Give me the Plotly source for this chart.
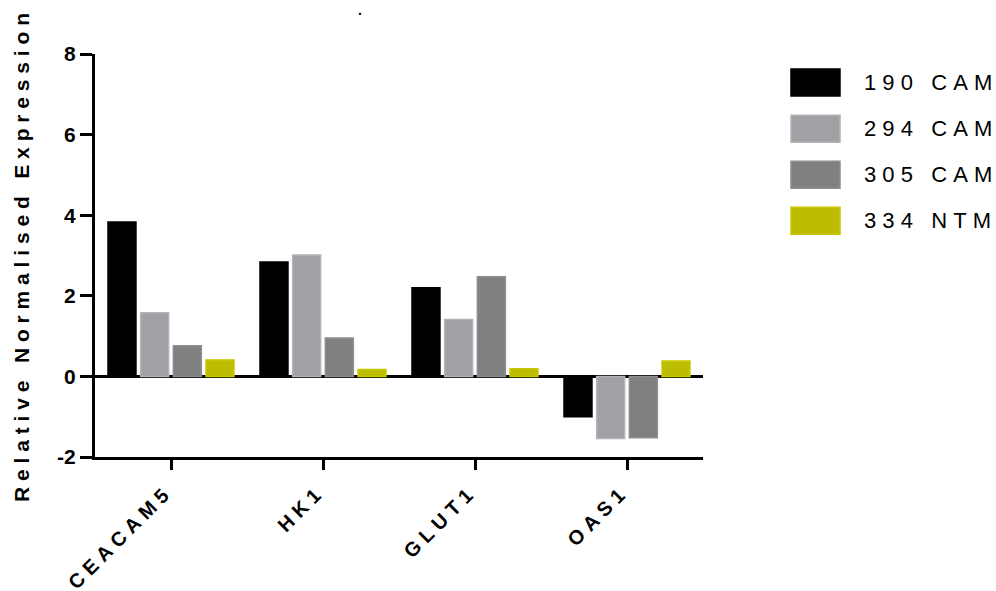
import plotly.graph_objects as go

# ---- data ----
genes = ["CEACAM5", "HK1", "GLUT1", "OAS1"]
series_names = ["190 CAM", "294 CAM", "305 CAM", "334 NTM"]
vals_190 = [3.83, 2.84, 2.20, -1.00]
vals_294 = [1.58, 3.01, 1.41, -1.54]
vals_305 = [0.76, 0.95, 2.47, -1.52]
vals_334 = [0.41, 0.17, 0.19, 0.38]
y_ticks = [-2, 0, 2, 4, 6, 8]
y_title = "Relative Normalised Expression"

fills = ["#000000", "#A1A1A5", "#808080", "#BCBC00"]
edges = ["#000000", "#B4B4B8", "#8E8E8E", "#C8C800"]

NB = "\u00a0"


def spaced(text, gap=NB, word_gap=NB * 3):
    """Letter-spaced string built from non-breaking spaces."""
    return word_gap.join(gap.join(word) for word in text.split(" "))


fig = go.Figure()
for name, vals, fc, ec in zip(series_names, [vals_190, vals_294, vals_305, vals_334], fills, edges):
    fig.add_trace(go.Bar(
        x=genes, y=vals, name=name,
        marker=dict(color=fc, line=dict(color=ec, width=1.5)),
        showlegend=False,
    ))

# plot area in pixels: x 95..703, y 54..457
L, R, T, B = 95, 703, 54, 457
W, H = 996, 591


def px_x(p):
    return (p - L) / (R - L)


def px_y(p):
    return (B - p) / (B - T)


font_main = "Liberation Sans, Arial, sans-serif"

# legend drawn as swatches + labels
row_y = [82.5, 128.7, 174.7, 220.8]
for name, fc, ec, ry in zip(series_names, fills, edges, row_y):
    fig.add_shape(type="rect", xref="paper", yref="paper",
                  x0=px_x(791), x1=px_x(840), y0=px_y(ry + 13.5), y1=px_y(ry - 13.5),
                  fillcolor=fc, line=dict(color=ec, width=1.5))
    fig.add_annotation(xref="paper", yref="paper", x=px_x(862), y=px_y(ry),
                       xanchor="left", yanchor="middle", showarrow=False,
                       text=spaced(name), font=dict(family=font_main, size=22, color="#000000"))

# y-axis title
fig.add_annotation(xref="paper", yref="paper", x=px_x(21), y=px_y(258),
                   xanchor="center", yanchor="middle", textangle=-90, showarrow=False,
                   text=spaced(y_title),
                   font=dict(family=font_main, size=21, color="#000000", weight="bold"))

# chart title (a single dot)
fig.add_annotation(xref="paper", yref="paper", x=px_x(360), y=px_y(0),
                   xanchor="center", yanchor="top", showarrow=False,
                   text=".", font=dict(family=font_main, size=14, color="#000000", weight="bold"))

fig.update_layout(
    width=W, height=H,
    margin=dict(l=L, r=W - R, t=T, b=H - B, pad=0, autoexpand=False),
    paper_bgcolor="white", plot_bgcolor="white",
    barmode="group", bargap=0.14, bargroupgap=0.144,
    font=dict(family=font_main, color="#000000"),
)

fig.update_xaxes(
    tickvals=genes, ticktext=[spaced(g) for g in genes],
    tickangle=-45, tickfont=dict(family=font_main, size=20, weight="bold"),
    ticklabelstandoff=6, ticklabelshift=-8,
    showline=True, linecolor="#000000", linewidth=3,
    ticks="outside", ticklen=10, tickwidth=3, tickcolor="#000000",
    showgrid=False, zeroline=False, range=[-0.5, 3.5], automargin=False,
)

fig.update_yaxes(
    range=[-2, 8], tickvals=y_ticks, ticktext=[str(v) for v in y_ticks],
    tickfont=dict(family=font_main, size=21, weight="bold"),
    showline=True, linecolor="#000000", linewidth=3,
    ticks="outside", ticklen=12, tickwidth=3, tickcolor="#000000",
    showgrid=False, zeroline=True, zerolinecolor="#000000", zerolinewidth=3,
    automargin=False,
)

fig.write_html("out.html")
